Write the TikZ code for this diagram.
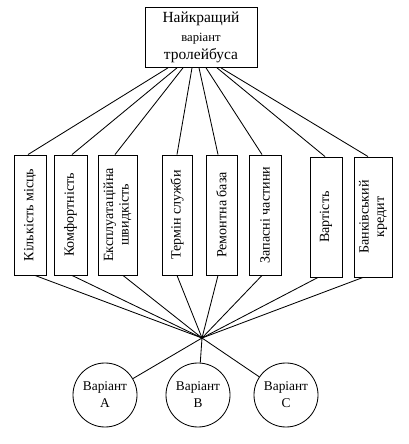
\documentclass[tikz,border=0pt]{standalone}
\usepackage{fontspec}
\setmainfont{Liberation Serif}
\usetikzlibrary{positioning}

\tikzset{
  crit/.style={draw, rotate=90, inner sep=1pt, minimum width=3cm, align=center,
    font=\fontsize{10}{11}\selectfont},
  variant/.style={draw, circle, minimum size=1.6cm, inner sep=0pt, align=center,
    font=\fontsize{9.5}{12}\selectfont}
}

\begin{document}
\begin{tikzpicture}[x=0.025cm, y=0.025cm, semithick]

  \useasboundingbox (0,0) rectangle (408,444);

  % goal
  \node[draw, minimum width=2.8cm, minimum height=1.375cm, align=center,
    font=\fontsize{11}{13}\selectfont] (best) at (201,406.5)
    {Найкращий\\{\small варіант}\\тролейбуса};

  % criteria
  \node[crit, minimum height=0.8cm]   (k1) at (30,229)    {Кількість місць};
  \node[crit, minimum height=0.825cm] (k2) at (70.5,229)  {Комфортність};
  \node[crit, minimum height=0.975cm] (k3) at (117.5,229) {Експлуатаційна\\швидкість};
  \node[crit, minimum height=0.75cm]  (k4) at (177,229)   {Термін служби};
  \node[crit, minimum height=0.775cm] (k5) at (221.5,229) {Ремонтна база};
  \node[crit, minimum height=0.8cm]   (k6) at (265,229)   {Запасні частини};
  \node[crit, minimum height=0.8cm]   (k7) at (326,227)   {Вартість};
  \node[crit, minimum height=0.95cm]  (k8) at (373,227)   {Банківський\\кредит};

  \coordinate (hub) at (202,106);

  % alternatives
  \node[variant] (vA) at (105,49) {Варіант\\A};
  \node[variant] (vB) at (198,49) {Варіант\\B};
  \node[variant] (vC) at (286,49) {Варіант\\C};

  \foreach \k/\s/\t/\b in {k1/-33/-2/5, k2/-24/1.5/1.5, k3/-18/-2.5/5.5, k4/-9/0/0,
                           k5/-2/-3.5/-3.5, k6/5/-3/-3, k7/16/-1/-8, k8/20/-5/-10}{
    \draw ([xshift=\s*0.025cm]best.south) -- ([xshift=\t*0.025cm]\k.east);
    \draw ([xshift=\b*0.025cm]\k.west) -- (hub);
  }

  \foreach \v in {vA,vB,vC}
    \draw (hub) -- (\v);

\end{tikzpicture}
\end{document}
